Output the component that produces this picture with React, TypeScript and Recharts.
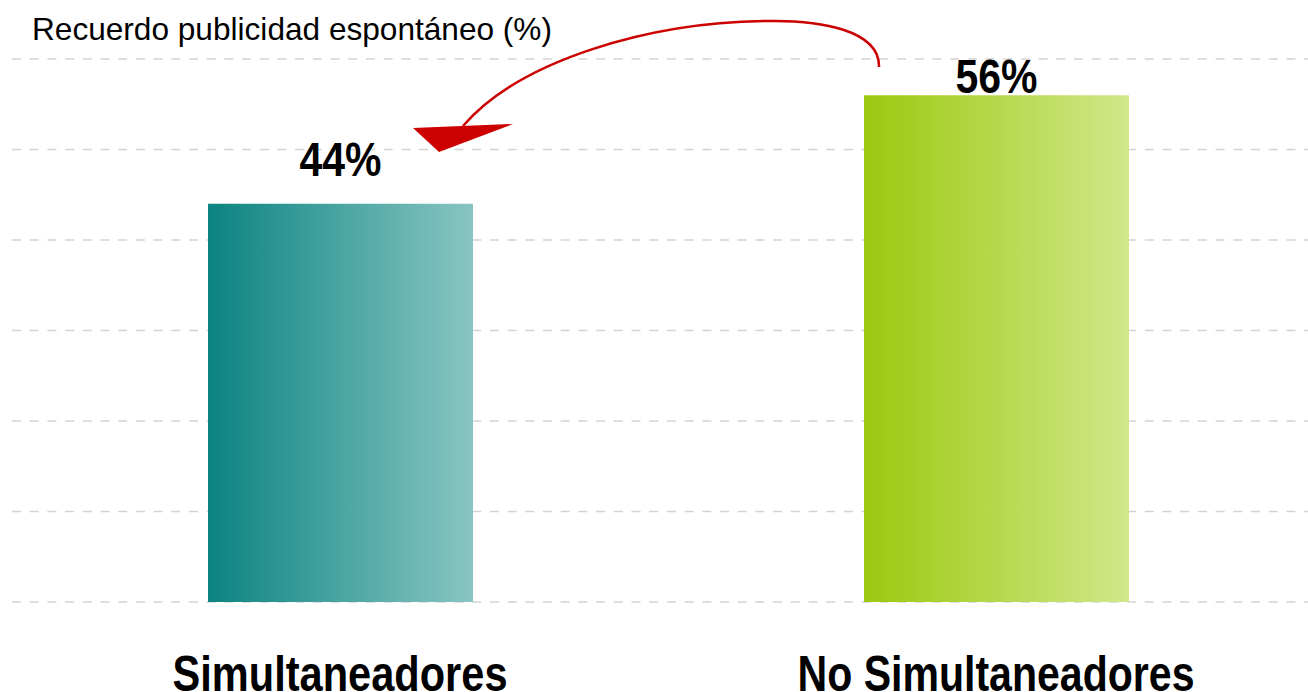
import { BarChart, Bar, XAxis, YAxis, CartesianGrid, Cell, LabelList } from 'recharts';

// Spontaneous ad recall by group
const categories = ['Simultaneadores', 'No Simultaneadores'];
const recall = [44, 56];
const yTicks = [0, 10, 20, 30, 40, 50, 60];

const data = categories.map((name, i) => ({ name, value: recall[i] }));

const GRADIENTS = [
  { id: 'gTeal', from: '#0b8481', to: '#89c5c3' },
  { id: 'gLime', from: '#9bc90f', to: '#d1e78a' },
];

// gap between the bar top and its value label (the original places them by hand)
const LABEL_GAP = [28, 2];

// no narrow font installed, so squeeze the bold sans to the narrow widths
const CATEGORY_WIDTH: Record<string, number> = { Simultaneadores: 335, 'No Simultaneadores': 397 };
const BOLD = "'Liberation Sans', Arial, sans-serif";

const CategoryTick = (props: any) => {
  const { x, y, payload } = props;
  return (
    <text
      x={x}
      y={y}
      dy={81}
      textAnchor="middle"
      fontFamily={BOLD}
      fontWeight="bold"
      fontSize={50}
      fill="#000"
      textLength={CATEGORY_WIDTH[payload.value]}
      lengthAdjust="spacingAndGlyphs"
    >
      {payload.value}
    </text>
  );
};

const ValueLabel = (props: any) => {
  const { x, y, width, value, index } = props;
  return (
    <text
      x={x + width / 2}
      y={y - LABEL_GAP[index]}
      textAnchor="middle"
      fontFamily={BOLD}
      fontWeight="bold"
      fontSize={48}
      fill="#000"
      textLength={82}
      lengthAdjust="spacingAndGlyphs"
    >
      {value}%
    </text>
  );
};

export default function App() {
  return (
    <div style={{ position: 'absolute', left: 0, top: 0, width: 1308, height: 692, overflow: 'hidden', background: '#fff' }}>
      <BarChart width={1324} height={692} data={data} margin={{ top: 59, right: 0, bottom: 0, left: 12 }}>
        <defs>
          {GRADIENTS.map((g) => (
            <linearGradient key={g.id} id={g.id} x1="0" y1="0" x2="1" y2="0">
              <stop offset="0%" stopColor={g.from} />
              <stop offset="100%" stopColor={g.to} />
            </linearGradient>
          ))}
        </defs>
        <CartesianGrid vertical={false} stroke="#d3d3d3" strokeWidth={1.5} strokeDasharray="9 8.7" />
        <XAxis dataKey="name" axisLine={false} tickLine={false} height={90} tick={<CategoryTick />} interval={0} />
        <YAxis hide width={0} domain={[0, 60]} ticks={yTicks} />
        <Bar dataKey="value" barSize={265} isAnimationActive={false}>
          {data.map((d, i) => (
            <Cell key={d.name} fill={`url(#${GRADIENTS[i].id})`} />
          ))}
          <LabelList dataKey="value" content={<ValueLabel />} />
        </Bar>
      </BarChart>
      <svg width={1308} height={692} style={{ position: 'absolute', left: 0, top: 0, pointerEvents: 'none' }}>
        <text x={32} y={40} fontFamily="'Liberation Sans', Arial, sans-serif" fontSize={31.5} fill="#000" textLength={520} lengthAdjust="spacingAndGlyphs">
          Recuerdo publicidad espontáneo (%)
        </text>
        <path d="M 879 67 C 880 30, 820 20, 767 21 C 650 22, 520 60, 463 126" fill="none" stroke="#cc0000" strokeWidth={2.5} />
        <polygon points="413,128 513,124 439,152" fill="#cc0000" />
      </svg>
    </div>
  );
}
